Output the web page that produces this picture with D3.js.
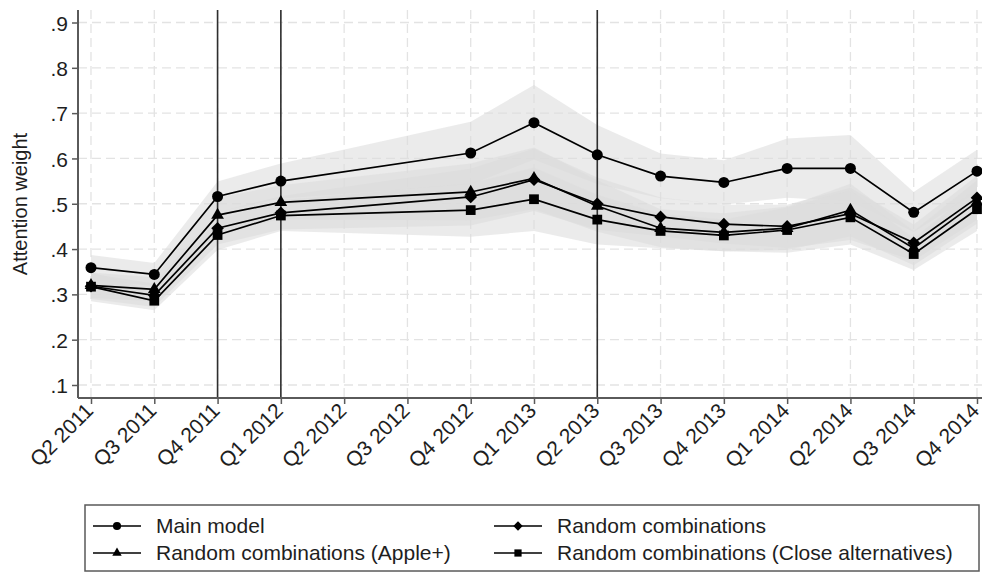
<!DOCTYPE html>
<html>
<head>
<meta charset="utf-8">
<script src="https://cdn.jsdelivr.net/npm/d3@7"></script>
<style>
  html, body { margin: 0; padding: 0; background: #fff; }
  svg { display: block; font-family: "Liberation Sans", Arial, sans-serif; }
</style>
</head>
<body>
<svg id="chart" width="982" height="574"></svg>
<script>
// Quarters on the x axis; Q2 and Q3 2012 carry no estimates
const quarters = ["Q2 2011","Q3 2011","Q4 2011","Q1 2012","Q2 2012","Q3 2012","Q4 2012",
                  "Q1 2013","Q2 2013","Q3 2013","Q4 2013","Q1 2014","Q2 2014","Q3 2014","Q4 2014"];

// Point estimates of the attention weight
const mainModel   = [0.359,0.344,0.516,0.550,null,null,0.612,0.679,0.608,0.561,0.547,0.578,0.578,0.481,0.572];
const randomComb  = [0.318,0.298,0.446,0.480,null,null,0.515,0.553,0.500,0.471,0.455,0.450,0.478,0.414,0.513];
const randomApple = [0.320,0.311,0.475,0.503,null,null,0.526,0.556,0.495,0.446,0.437,0.446,0.486,0.402,0.504];
const randomClose = [0.317,0.286,0.431,0.474,null,null,0.486,0.510,0.465,0.440,0.430,0.442,0.470,0.389,0.488];

// Confidence bands (lower / upper)
const mainLo   = [0.331,0.318,0.482,0.511,null,null,0.542,0.597,0.543,0.512,0.498,0.513,0.505,0.437,0.525];
const mainHi   = [0.387,0.369,0.549,0.589,null,null,0.681,0.762,0.674,0.611,0.596,0.644,0.652,0.526,0.619];
const combLo   = [0.290,0.272,0.410,0.443,null,null,0.452,0.484,0.442,0.428,0.412,0.402,0.420,0.374,0.464];
const combHi   = [0.346,0.324,0.482,0.517,null,null,0.578,0.622,0.558,0.514,0.498,0.498,0.536,0.454,0.562];
const appleLo  = [0.292,0.284,0.437,0.465,null,null,0.463,0.488,0.438,0.404,0.395,0.398,0.428,0.364,0.456];
const appleHi  = [0.348,0.338,0.513,0.541,null,null,0.589,0.624,0.552,0.488,0.479,0.494,0.544,0.440,0.552];
const closeLo  = [0.285,0.265,0.398,0.440,null,null,0.427,0.440,0.410,0.402,0.395,0.392,0.410,0.354,0.440];
const closeHi  = [0.349,0.307,0.464,0.508,null,null,0.545,0.580,0.520,0.478,0.465,0.492,0.530,0.424,0.536];

// Quarters marked with a vertical reference line
const eventQuarters = ["Q4 2011","Q1 2012","Q2 2013"];

const yTicks = [0.1,0.2,0.3,0.4,0.5,0.6,0.7,0.8,0.9];
const yDomain = [0.0713, 0.9276];

const seriesNames = ["Main model","Random combinations","Random combinations (Apple+)","Random combinations (Close alternatives)"];

// Wide diamond (rotated square) marker
const wideDiamond = {
  draw(ctx, size) {
    const r = Math.sqrt(size / 2);
    ctx.moveTo(0, -r); ctx.lineTo(r, 0); ctx.lineTo(0, r); ctx.lineTo(-r, 0); ctx.closePath();
  }
};

const series = [
  { name: seriesNames[0], values: mainModel,   lo: mainLo,  hi: mainHi,  symbol: d3.symbolCircle,  size: 95 },
  { name: seriesNames[1], values: randomComb,  lo: combLo,  hi: combHi,  symbol: wideDiamond,      size: 80 },
  { name: seriesNames[2], values: randomApple, lo: appleLo, hi: appleHi, symbol: d3.symbolTriangle,size: 70 },
  { name: seriesNames[3], values: randomClose, lo: closeLo, hi: closeHi, symbol: d3.symbolSquare,  size: 95 }
];

const svg = d3.select("#chart");
const plot = { left: 78, right: 982, top: 10, bottom: 398 };

const x = d3.scalePoint().domain(quarters).range([91, 977]);
const y = d3.scaleLinear().domain(yDomain).range([plot.bottom, plot.top]);

const textColor = "#1e1e1e";
const axisColor = "#5a5a5a";
const fontSize = 21;

// Grid
const grid = svg.append("g");
grid.selectAll("line.h").data(yTicks).join("line")
  .attr("x1", plot.left).attr("x2", plot.right)
  .attr("y1", d => y(d)).attr("y2", d => y(d))
  .attr("stroke", "#e3e3e3").attr("stroke-width", 1.3).attr("stroke-dasharray", "9,5");
grid.selectAll("line.v").data(quarters).join("line")
  .attr("x1", d => x(d)).attr("x2", d => x(d))
  .attr("y1", plot.top).attr("y2", plot.bottom)
  .attr("stroke", "#e3e3e3").attr("stroke-width", 1.3).attr("stroke-dasharray", "9,5");

// Confidence bands
const bandData = s => quarters.map((q, i) => ({ q, lo: s.lo[i], hi: s.hi[i] })).filter(d => d.lo != null);
const area = d3.area().x(d => x(d.q)).y0(d => y(d.lo)).y1(d => y(d.hi));
svg.append("g").selectAll("path").data(series).join("path")
  .attr("d", s => area(bandData(s)))
  .attr("fill", "#dcdcdc").attr("fill-opacity", 0.57);

// Event reference lines
svg.append("g").selectAll("line").data(eventQuarters).join("line")
  .attr("x1", d => x(d)).attr("x2", d => x(d))
  .attr("y1", plot.top).attr("y2", plot.bottom)
  .attr("stroke", "#2e2e2e").attr("stroke-width", 1.6);

// Axes
const yAxis = d3.axisLeft(y).tickValues(yTicks).tickSize(6).tickPadding(4)
  .tickFormat(d => "." + Math.round(d * 10));
const gy = svg.append("g").attr("transform", `translate(${plot.left},0)`).call(yAxis);
gy.select(".domain").attr("d", `M0,${plot.top}V${plot.bottom}`);

const xAxis = d3.axisBottom(x).tickSize(6).tickPadding(4);
const gx = svg.append("g").attr("transform", `translate(0,${plot.bottom})`).call(xAxis);
gx.select(".domain").attr("d", `M${plot.left},0H${plot.right}`);
gx.selectAll(".tick text")
  .attr("text-anchor", "end")
  .attr("dy", null).attr("y", 0)
  .attr("transform", "translate(3,14) rotate(-45)");

[gx, gy].forEach(g => {
  g.select(".domain").attr("stroke", axisColor).attr("stroke-width", 2);
  g.selectAll(".tick line").attr("stroke", axisColor).attr("stroke-width", 1.5);
  g.selectAll(".tick text").attr("fill", textColor).attr("font-size", fontSize)
   .attr("font-family", "Liberation Sans, Arial, sans-serif");
});
gy.selectAll(".tick text").attr("dy", "0.36em");

svg.append("text")
  .attr("transform", "translate(27,204) rotate(-90)")
  .attr("text-anchor", "middle")
  .attr("font-size", 20).attr("fill", textColor)
  .text("Attention weight");

// Series lines and markers
const line = d3.line().x(d => x(d.q)).y(d => y(d.v));
const pts = s => quarters.map((q, i) => ({ q, v: s.values[i] })).filter(d => d.v != null);
const sg = svg.append("g").selectAll("g").data(series).join("g");
sg.append("path")
  .attr("d", s => line(pts(s)))
  .attr("fill", "none").attr("stroke", "#000").attr("stroke-width", 1.7);
sg.each(function (s) {
  d3.select(this).selectAll("path.m").data(pts(s)).join("path")
    .attr("class", "m")
    .attr("transform", d => `translate(${x(d.q)},${y(d.v)})`)
    .attr("d", d3.symbol().type(s.symbol).size(s.size))
    .attr("fill", "#000");
});

// Legend
const legend = svg.append("g");
legend.append("rect")
  .attr("x", 85).attr("y", 505).attr("width", 894).attr("height", 66)
  .attr("fill", "#fff").attr("stroke", axisColor).attr("stroke-width", 1.5);
const legendPos = [
  { cx: 93, cy: 526 }, { cx: 494, cy: 526 },
  { cx: 93, cy: 553 }, { cx: 494, cy: 553 }
];
series.forEach((s, i) => {
  const p = legendPos[i];
  const g = legend.append("g").attr("transform", `translate(${p.cx},${p.cy})`);
  g.append("line").attr("x1", 0).attr("x2", 48).attr("y1", 0).attr("y2", 0)
    .attr("stroke", "#000").attr("stroke-width", 1.7);
  g.append("path").attr("transform", "translate(24,0)")
    .attr("d", d3.symbol().type(s.symbol).size(s.size * 0.55)).attr("fill", "#000");
  g.append("text").attr("x", 63).attr("y", 0).attr("dy", "0.35em")
    .attr("font-size", fontSize).attr("fill", textColor).text(s.name);
});
</script>
</body>
</html>
